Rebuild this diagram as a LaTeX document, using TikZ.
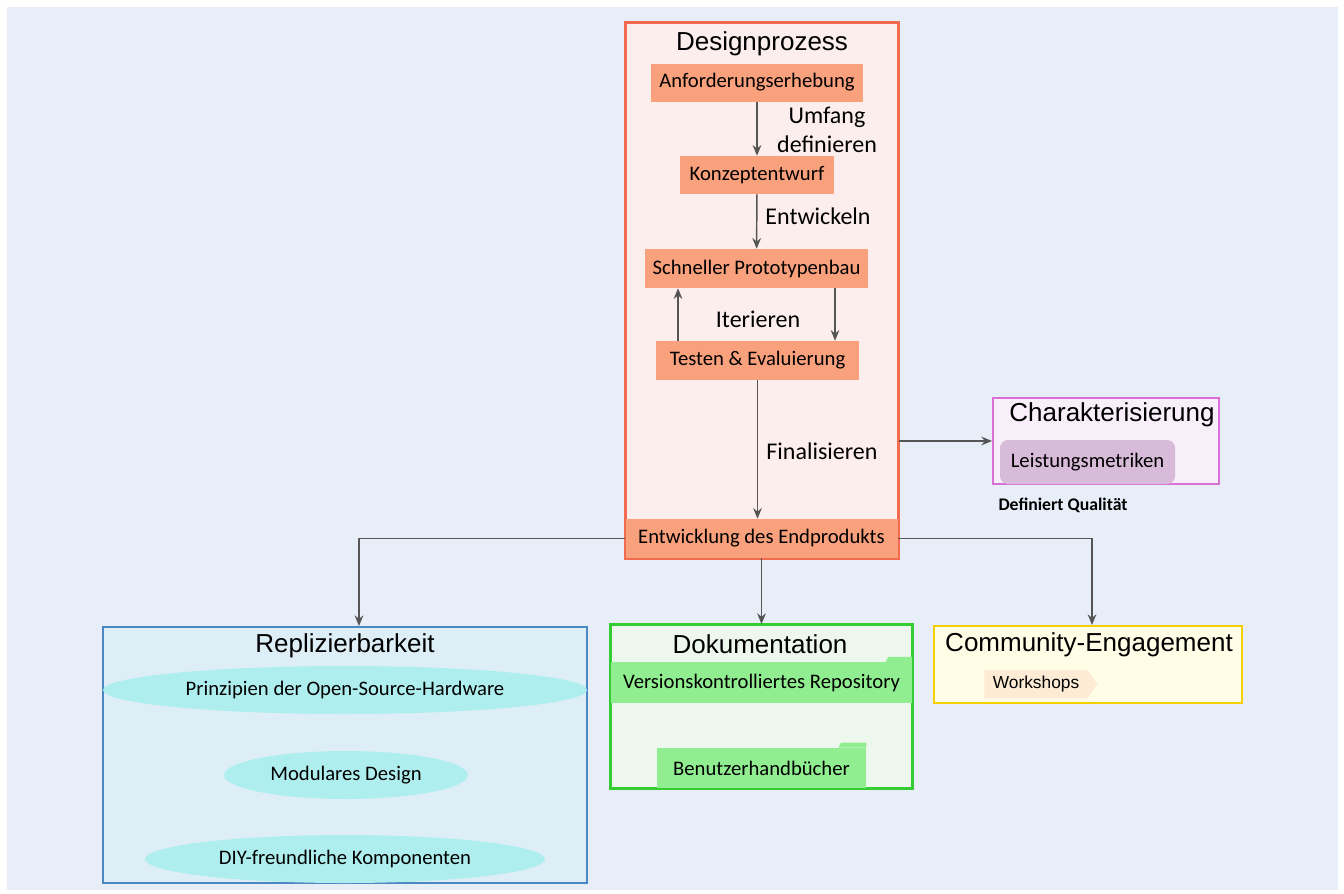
\documentclass[tikz,border=0pt]{standalone}
\usepackage{fontspec}
\setmainfont{Carlito}
\newfontfamily\headfont{Liberation Sans}
\usetikzlibrary{shapes.geometric,shapes.symbols,arrows.meta}
\definecolor{canvas}{HTML}{E8EEF8}
\definecolor{linegray}{HTML}{555555}
\definecolor{dpred}{HTML}{F26B4F}
\definecolor{dpfill}{HTML}{FCEEEC}
\definecolor{salmonbox}{HTML}{F9A07C}
\definecolor{charline}{HTML}{DA70D6}
\definecolor{charfill}{HTML}{F8EFFA}
\definecolor{metricfill}{HTML}{D8BBD8}
\definecolor{replline}{HTML}{4B87C1}
\definecolor{replfill}{HTML}{DEEEF7}
\definecolor{turq}{HTML}{AFEEEE}
\definecolor{docline}{HTML}{33CC33}
\definecolor{docfill}{HTML}{EEF7EE}
\definecolor{docgreen}{HTML}{90EE90}
\definecolor{commline}{HTML}{F5D000}
\definecolor{commfill}{HTML}{FFFDE6}
\definecolor{peach}{HTML}{FDEBD5}
\newcommand\boxtext{\fontsize{15.5}{18}\selectfont}
\newcommand\edgetext{\fontsize{18}{21.75}\selectfont}
\tikzset{
  group/.style={draw, line width=1.5pt, inner sep=0pt},
  head/.style={font=\headfont\fontsize{19.5}{22}\selectfont, inner sep=0pt},
  stepbox/.style={fill=salmonbox, font=\boxtext, inner sep=0pt, minimum height=28.5pt},
  item/.style={ellipse, fill=turq, font=\boxtext, inner sep=0pt, minimum height=36pt},
  folder/.style={fill=docgreen, font=\boxtext, inner sep=0pt, minimum height=30.5pt},
  edgelabel/.style={font=\edgetext, align=center, inner sep=0pt},
  arr/.style={draw=linegray, line width=1.1pt, -{Stealth[length=8pt,width=6.5pt]}}
}
\begin{document}
\begin{tikzpicture}[x=0.75pt,y=-0.75pt]
  \useasboundingbox (0,0) rectangle (1344,893);
  \fill[canvas] (7,7) rectangle (1338,890);

  \node[group, draw=dpred, fill=dpfill, minimum width=204pt, minimum height=401.25pt] (dp) at (762,290.5) {};
  \node[head] (dptitle) at (762,44) {Designprozess};
  \node[stepbox, minimum width=159pt] (anf) at (757,82.5) {Anforderungserhebung};
  \node[stepbox, minimum width=115.5pt] (konz) at (757,175) {Konzeptentwurf};
  \node[stepbox, minimum width=167.25pt, minimum height=29.25pt] (proto) at (756.5,268.5) {Schneller Prototypenbau};
  \node[stepbox, minimum width=152.25pt, minimum height=29.25pt] (test) at (757.5,360.5) {Testen \& Evaluierung};
  \node[stepbox, minimum width=204pt, minimum height=29.25pt] (endp) at (761.5,538.5) {Entwicklung des Endprodukts};
  \draw[dpred, line width=1.5pt] (dp.north west) rectangle (dp.south east);

  \draw[arr] (anf) -- (konz);
  \node[edgelabel] (lumf) at (827,130) {Umfang\\definieren};
  \draw[arr] (konz) -- (proto);
  \node[edgelabel] (lent) at (818,216) {Entwickeln};
  \draw[arr] ([xshift=-59.6pt]test.north) -- ([xshift=-59.6pt]test.north |- proto.south);
  \draw[arr] ([xshift=58.9pt]proto.south) -- ([xshift=58.9pt]proto.south |- test.north);
  \node[edgelabel] (liter) at (758,319) {Iterieren};
  \draw[arr] (test.south) -- (test.south |- endp.north);
  \node[edgelabel] (lfin) at (822,451) {Finalisieren};

  \node[group, draw=charline, fill=charfill, minimum width=169.5pt, minimum height=64.5pt] (char) at (1106,441) {};
  \node[head] (chartitle) at (1112,415) {Charakterisierung};
  \node[fill=metricfill, rounded corners=6pt, font=\boxtext, inner sep=0pt, minimum width=131.25pt, minimum height=33pt] (metr) at (1087.5,462) {Leistungsmetriken};
  \node[font=\bfseries\fontsize{13.3}{16}\selectfont, inner sep=0pt] (qual) at (1063,505) {Definiert Qualität};
  \draw[arr] (dp.east |- char.west) -- (char.west);

  \node[group, draw=replline, fill=replfill, minimum width=363pt, minimum height=192pt] (repl) at (345,755) {};
  \node[head] (repltitle) at (345,646) {Replizierbarkeit};
  \node[item, minimum width=363pt] (osh) at (345,690) {Prinzipien der Open-Source-Hardware};
  \node[item, minimum width=183pt] (mod) at (346,775) {Modulares Design};
  \node[item, minimum width=300pt] (diy) at (345,859) {DIY-freundliche Komponenten};

  \node[group, draw=docline, fill=docfill, minimum width=225.75pt, minimum height=122.25pt] (doku) at (761.5,706.5) {};
  \node[head] (dokutitle) at (760,644) {Dokumentation};
  \node[folder, minimum width=225.75pt] (repo) at (761.5,682.5) {Versionskontrolliertes Repository};
  \fill[docgreen] ([xshift=-20pt]repo.north east) -- ++(2pt,3.8pt) -| (repo.north east) -- cycle;
  \node[folder, minimum width=156.75pt, minimum height=30pt] (hand) at (761.5,768) {Benutzerhandbücher};
  \fill[docgreen] ([xshift=-21pt]hand.north east) -- ++(2pt,3.8pt) -| (hand.north east) -- cycle;
  \draw[docline, line width=1.5pt] (doku.north west) rectangle (doku.south east);

  \node[group, draw=commline, fill=commfill, minimum width=231pt, minimum height=57.75pt] (comm) at (1088,664.5) {};
  \node[head] (commtitle) at (1089,645) {Community-Engagement};
  \node[signal, signal to=east, signal pointer angle=110, fill=peach, font=\headfont\fontsize{13}{15}\selectfont, inner sep=0pt, minimum width=84.75pt, minimum height=21pt] (work) at (1036,684) {Workshops};

  \draw[arr] (endp.west) -| ([xshift=10.5pt]repl.north);
  \draw[arr] (endp.south) -- (doku.north);
  \draw[arr] (endp.east) -| ([xshift=3pt]comm.north);
\end{tikzpicture}
\end{document}
